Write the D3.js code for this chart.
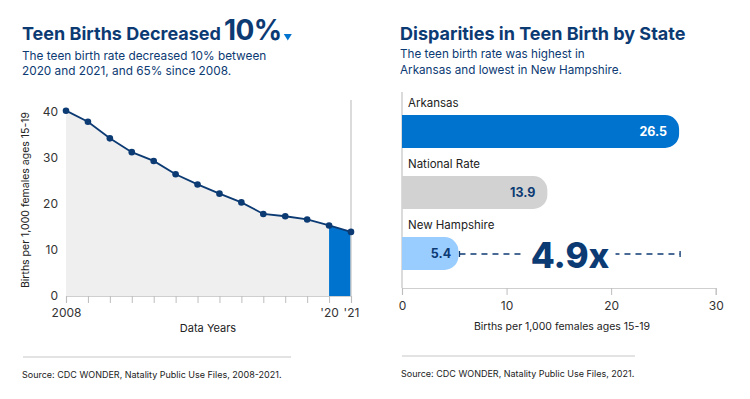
<!DOCTYPE html>
<html><head><meta charset="utf-8">
<script src="https://cdn.jsdelivr.net/npm/d3@7"></script>
<style>
body{margin:0;background:#fff;}
svg{display:block;font-family:Inter, "Noto Sans", sans-serif;}
</style></head>
<body>
<svg id="chart" width="750" height="399"></svg>
<script>
// ---- data ----
const years = [2008,2009,2010,2011,2012,2013,2014,2015,2016,2017,2018,2019,2020,2021];
const teenRates = [40.2,37.8,34.2,31.2,29.3,26.4,24.2,22.2,20.3,17.8,17.3,16.6,15.3,13.9];
const yTicks = [0,10,20,30,40];
const xTickLabels = {2008:"2008",2020:"'20",2021:"'21"};
const states = ["Arkansas","National Rate","New Hampshire"];
const stateRates = [26.5,13.9,5.4];
const barTicks = [0,10,20,30];
const ratioLabel = "4.9x";

const navy = "#0c3a73";
const blue = "#0073cf";
const svg = d3.select("#chart");

// ---- left header ----
const lt = svg.append("text").attr("x",22).attr("y",40).attr("fill",navy).attr("font-weight",700);
lt.append("tspan").attr("font-size",18).text("Teen Births Decreased");
lt.append("tspan").attr("dx",3).attr("font-size",28).attr("letter-spacing",-0.5).text("10%");
const ltBox = lt.node().getBBox();
const tx = ltBox.x + ltBox.width + 2;
svg.append("path").attr("d",`M${tx},34 L${tx+8},34 L${tx+4},40.5 Z`).attr("fill",blue);

svg.append("text").attr("x",22).attr("y",60).attr("fill",navy).attr("font-size",11.8)
  .text("The teen birth rate decreased 10% between");
svg.append("text").attr("x",22).attr("y",75).attr("fill",navy).attr("font-size",11.8)
  .text("2020 and 2021, and 65% since 2008.");

// ---- left chart ----
const x = d3.scaleLinear().domain([2008,2021]).range([66,351]);
const y = d3.scaleLinear().domain([0,40]).range([296,111.6]);
const pts = years.map((yr,i)=>({yr,v:teenRates[i]}));

const area = d3.area().x(d=>x(d.yr)).y0(y(0)).y1(d=>y(d.v));
svg.append("path").datum(pts).attr("d",area).attr("fill","#efefef");
svg.append("path").datum(pts.filter(d=>d.yr>=2020)).attr("d",area).attr("fill",blue);

// right vertical line
svg.append("line").attr("x1",x(2021)).attr("x2",x(2021)).attr("y1",100).attr("y2",y(0))
  .attr("stroke","#cfcfcf").attr("stroke-width",1.5);

// x axis
const xAxis = svg.append("g").attr("transform",`translate(0,${y(0)})`)
  .call(d3.axisBottom(x).tickValues(years).tickSize(7).tickFormat(d=>xTickLabels[d]||""));
xAxis.select(".domain").attr("stroke","#cfcfcf").attr("stroke-width",1.2);
xAxis.selectAll(".tick line").attr("stroke","#bdbdbd");
xAxis.selectAll(".tick text").attr("font-size",12).attr("fill","#333").attr("font-family","Inter, sans-serif").attr("dy","0.95em");

// y axis labels
const yAxis = svg.append("g").attr("transform",`translate(60,0)`)
  .call(d3.axisLeft(y).tickValues(yTicks).tickSize(0).tickPadding(2));
yAxis.select(".domain").remove();
yAxis.selectAll(".tick text").attr("font-size",12).attr("fill","#333").attr("font-family","Inter, sans-serif");

// line & dots
svg.append("path").datum(pts).attr("d",d3.line().x(d=>x(d.yr)).y(d=>y(d.v)))
  .attr("fill","none").attr("stroke",navy).attr("stroke-width",1.8);
svg.selectAll("circle.pt").data(pts).join("circle").attr("class","pt")
  .attr("cx",d=>x(d.yr)).attr("cy",d=>y(d.v)).attr("r",3.3).attr("fill",navy);

svg.append("text").attr("transform","translate(29,200) rotate(-90)").attr("text-anchor","middle")
  .attr("font-size",10.5).attr("fill","#222").text("Births per 1,000 females ages 15-19");
svg.append("text").attr("x",208).attr("y",332).attr("text-anchor","middle")
  .attr("font-size",11).attr("fill","#222").text("Data Years");

svg.append("line").attr("x1",23).attr("x2",291).attr("y1",357).attr("y2",357).attr("stroke","#c8c8c8").attr("stroke-width",1.2);
svg.append("text").attr("x",22).attr("y",378).attr("font-size",9).attr("fill","#222")
  .text("Source: CDC WONDER, Natality Public Use Files, 2008-2021.");

// ---- right header ----
svg.append("text").attr("x",400).attr("y",40).attr("fill",navy).attr("font-weight",700).attr("font-size",18)
  .text("Disparities in Teen Birth by State");
svg.append("text").attr("x",400).attr("y",58).attr("fill",navy).attr("font-size",11.7)
  .text("The teen birth rate was highest in");
svg.append("text").attr("x",400).attr("y",74).attr("fill",navy).attr("font-size",11.7)
  .text("Arkansas and lowest in New Hampshire.");

// ---- right chart ----
const bx = d3.scaleLinear().domain([0,30]).range([402,715.7]);
const by = d3.scaleBand().domain(states).range([101,284]).paddingInner(0.46).paddingOuter(0.23);
const barColors = [blue,"#d2d2d2","#99ccff"];
const valColors = ["#fff",navy,navy];

svg.append("line").attr("x1",bx(0)).attr("x2",bx(0)).attr("y1",92).attr("y2",288)
  .attr("stroke","#cfcfcf").attr("stroke-width",1.5);

const bAxis = svg.append("g").attr("transform","translate(0,288)")
  .call(d3.axisBottom(bx).tickValues(barTicks).tickSize(7).tickPadding(6));
bAxis.select(".domain").attr("stroke","#cfcfcf").attr("stroke-width",1.2);
bAxis.selectAll(".tick line").attr("stroke","#bdbdbd");
bAxis.selectAll(".tick text").attr("font-size",12).attr("fill","#333").attr("font-family","Inter, sans-serif");

function barPath(x0,x1,y0,h){
  const r = Math.min(14,h/2,(x1-x0));
  return `M${x0},${y0}H${x1-r}A${r},${r} 0 0 1 ${x1},${y0+r}V${y0+h-r}A${r},${r} 0 0 1 ${x1-r},${y0+h}H${x0}Z`;
}
states.forEach((s,i)=>{
  const y0 = by(s), h = by.bandwidth(), x1 = bx(stateRates[i]);
  svg.append("path").attr("d",barPath(bx(0),x1,y0,h)).attr("fill",barColors[i]);
  svg.append("text").attr("x",408).attr("y",y0-8).attr("font-size",11.5).attr("fill","#222").text(s);
  const inset = Math.min(12,(x1-bx(0))*0.13);
  svg.append("text").attr("x",x1-inset).attr("y",y0+h/2).attr("dy","0.36em").attr("text-anchor","end")
    .attr("font-size",12.5).attr("font-weight",700).attr("fill",valColors[i]).text(stateRates[i]);
});

// ratio annotation
const ann = svg.append("g");
const ly = by(states[2]) + by.bandwidth()/2 + 0.5;
const xa = bx(stateRates[2]) + 1, xb = bx(stateRates[0]) + 1;
ann.append("line").attr("x1",xa).attr("x2",xb).attr("y1",ly).attr("y2",ly)
  .attr("stroke",navy).attr("stroke-width",1.3).attr("stroke-dasharray","6,5");
[xa,xb].forEach(xx=>ann.append("line").attr("x1",xx).attr("x2",xx).attr("y1",ly-3).attr("y2",ly+3).attr("stroke",navy).attr("stroke-width",1.3));
const maskRect = ann.append("rect").attr("fill","#fff");
const rt = ann.append("text").attr("x",570).attr("y",268).attr("text-anchor","middle")
  .attr("font-size",35).attr("font-weight",800).attr("fill",navy).text(ratioLabel);
const rb = rt.node().getBBox();
maskRect.attr("x",rb.x-6).attr("y",ly-4).attr("width",rb.width+12).attr("height",8);

svg.append("text").attr("x",562).attr("y",330).attr("text-anchor","middle")
  .attr("font-size",10.5).attr("fill","#222").text("Births per 1,000 females ages 15-19");

svg.append("line").attr("x1",402).attr("x2",635).attr("y1",356).attr("y2",356).attr("stroke","#c8c8c8").attr("stroke-width",1.2);
svg.append("text").attr("x",401).attr("y",377).attr("font-size",9).attr("fill","#222")
  .text("Source: CDC WONDER, Natality Public Use Files, 2021.");
</script>
</body></html>
